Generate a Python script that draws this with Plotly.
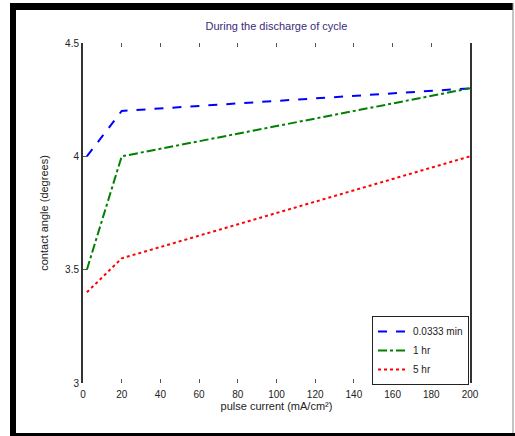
import plotly.graph_objects as go

# ---- data ----
x_vals = [2, 20, 200]
fast_vals = [4.0, 4.2, 4.3]      # 0.0333 min
one_hr_vals = [3.5, 4.0, 4.3]    # 1 hr
five_hr_vals = [3.4, 3.55, 4.0]  # 5 hr
series_names = ["0.0333 min", "1 hr", "5 hr"]
x_ticks = [0, 20, 40, 60, 80, 100, 120, 140, 160, 180, 200]
y_ticks = [3, 3.5, 4, 4.5]
title_text = "During the discharge of cycle"
x_title = "pulse current (mA/cm²)"
y_title = "contact angle (degrees)"

W, H = 515, 436
L, R, T, B = 83, 45, 43, 53
pw, ph = W - L - R, H - T - B

def px(xp):
    return (xp - L) / pw

def py(yp):
    return (H - B - yp) / ph

fig = go.Figure()
styles = [("#0000ff", "dash"), ("#008000", "dashdot"), ("#ff0000", "dot")]
for name, vals, (col, dash) in zip(series_names, [fast_vals, one_hr_vals, five_hr_vals], styles):
    fig.add_trace(go.Scatter(x=x_vals, y=vals, mode="lines", name=name,
                             line=dict(color=col, dash=dash, width=2)))

fam = "Liberation Sans, Arial, sans-serif"
tick_fnt = dict(family=fam, size=10, color="#222")
lab_fnt = dict(family=fam, size=11, color="#222")

shapes = [
    # outer figure frame
    dict(type="line", xref="paper", yref="paper", x0=px(10), x1=px(513), y0=py(6.5), y1=py(6.5),
         line=dict(color="black", width=7)),
    dict(type="line", xref="paper", yref="paper", x0=px(13), x1=px(13), y0=py(3), y1=py(436),
         line=dict(color="black", width=6)),
    dict(type="line", xref="paper", yref="paper", x0=px(513), x1=px(513), y0=py(3), y1=py(436),
         line=dict(color="#888", width=1)),
    dict(type="line", xref="paper", yref="paper", x0=px(10), x1=px(515), y0=py(434.5), y1=py(434.5),
         line=dict(color="black", width=3)),
]

fig.update_layout(
    width=W, height=H,
    margin=dict(l=L, r=R, t=T, b=B, pad=0),
    paper_bgcolor="white", plot_bgcolor="white",
    font=tick_fnt,
    title=dict(text=title_text, x=(L + pw / 2) / W, xanchor="center", y=1 - 26 / H, yanchor="middle",
               font=dict(family=fam, size=11, color="#3a2a7a")),
    xaxis=dict(range=[0, 200], tickvals=x_ticks, showgrid=False, zeroline=False,
               showline=False, ticks="inside", ticklen=4, tickcolor="#555", tickwidth=1,
               mirror="ticks", tickfont=tick_fnt, ticklabelstandoff=4,
               title=dict(text=x_title, font=lab_fnt, standoff=3)),
    yaxis=dict(range=[3, 4.5], tickvals=y_ticks, ticktext=["3", "3.5", "4", "4.5"],
               showgrid=False, zeroline=False,
               showline=True, linecolor="#333", linewidth=2, mirror=True,
               ticks="inside", ticklen=4, tickcolor="#555", tickwidth=1, tickfont=tick_fnt,
               title=dict(text=y_title, font=lab_fnt, standoff=14)),
    legend=dict(x=px(372), xanchor="left", y=py(385), yanchor="bottom", bgcolor="white",
                bordercolor="#222", borderwidth=1, font=dict(family=fam, size=10, color="#222"),
                itemwidth=30, tracegroupgap=0),
    shapes=shapes,
    showlegend=True,
)

fig.write_html("out.html", config={"displayModeBar": False},
               post_script="document.body.style.margin='0';document.body.style.overflow='hidden';")
